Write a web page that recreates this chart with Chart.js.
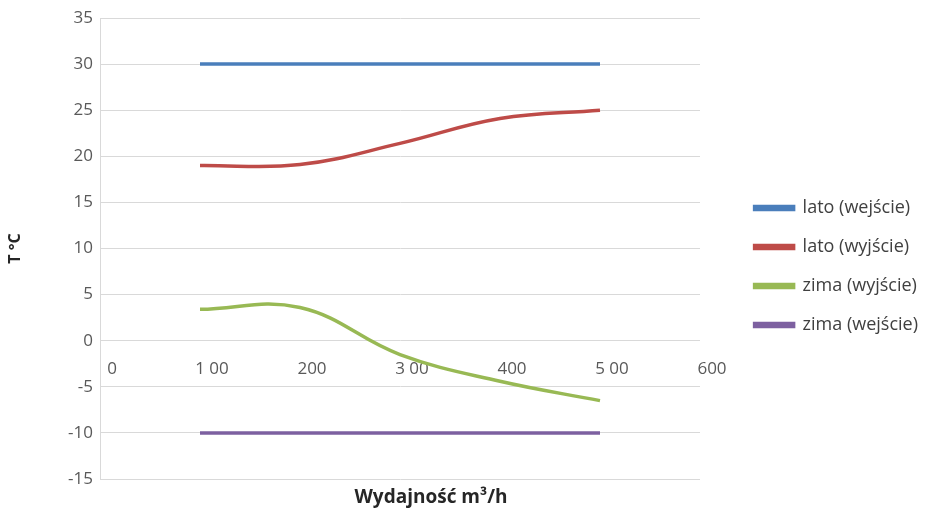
<!DOCTYPE html>
<html><head><meta charset="utf-8">
<script src="https://cdn.jsdelivr.net/npm/chart.js@4/dist/chart.umd.min.js"></script>
<style>html,body{margin:0;padding:0;background:#fff}#wrap{width:928px;height:515px}</style>
</head><body><div id="wrap"><canvas id="c" width="928" height="515"></canvas></div>
<script>
const xValues = [100, 200, 300, 400, 500];
const latoWejscie = [30, 30, 30, 30, 30];
const latoWyjscie = [19.0, 19.1, 21.4, 24.1, 25.0];
const zimaWyjscie = [3.4, 3.6, -1.5, -4.4, -6.5];
const zimaWejscie = [-10, -10, -10, -10, -10];
const seriesNames = ['lato (wejście)', 'lato (wyjście)', 'zima (wyjście)', 'zima (wejście)'];
const xTickValues = [0, 100, 200, 300, 400, 500, 600];
const xTickLabels = ['0', '1 00', '200', '3 00', '400', '5 00', '600'];
const yTitle = 'T °C';
const xTitle = 'Wydajność m³/h';

const colors = ['#4a7ebb', '#be4b48', '#98b954', '#7d60a0'];
const seriesValues = [latoWejscie, latoWyjscie, zimaWyjscie, zimaWejscie];

const datasets = seriesNames.map((name, i) => ({
  label: name,
  data: xValues.map((x, j) => ({x: x, y: seriesValues[i][j]})),
  borderColor: colors[i],
  backgroundColor: colors[i],
  borderWidth: 3.5,
  pointRadius: 0,
  tension: 0.4,
  fill: false
}));

const PLOT_RIGHT = 700;

const xTitlePlugin = {
  id: 'xTitle',
  afterDraw(chart) {
    const ctx = chart.ctx;
    ctx.save();
    ctx.font = 'bold 19px "Open Sans"';
    ctx.fillStyle = '#262626';
    ctx.textAlign = 'center';
    ctx.textBaseline = 'middle';
    ctx.fillText(xTitle, chart.chartArea.left + 331, 498);
    ctx.restore();
  }
};

const chart = new Chart(document.getElementById('c'), {
  type: 'line',
  data: {datasets},
  options: {
    responsive: false,
    animation: false,
    layout: {padding: {top: 18, bottom: 36, left: 0, right: 0}},
    plugins: {
      tooltip: {enabled: false},
      legend: {
        position: 'right',
        maxWidth: 228,
        title: {display: true, text: ' ', font: {size: 10, lineHeight: 1.2}, padding: 12},
        labels: {
          boxWidth: 39,
          boxHeight: 3,
          padding: 21,
          color: '#404040',
          font: {family: '"Open Sans"', size: 18}
        }
      }
    },
    scales: {
      x: {
        type: 'linear',
        min: 0, max: 600,
        position: {y: 0},
        afterBuildTicks: s => { s.ticks = xTickValues.map(v => ({value: v})); },
        grid: {display: false},
        border: {display: false},
        ticks: {
          autoSkip: false, maxRotation: 0,
          padding: 10, labelOffset: 12,
          color: '#595959',
          font: {family: '"Open Sans"', size: 17},
          callback: v => xTickLabels[xTickValues.indexOf(v)]
        }
      },
      y: {
        min: -15, max: 35,
        position: 'left',
        ticks: {stepSize: 5, padding: 7, color: '#595959', font: {family: '"Open Sans"', size: 17}},
        grid: {color: '#d9d9d9', lineWidth: 1, drawTicks: false},
        border: {display: true, color: '#d9d9d9'},
        title: {display: true, text: yTitle, color: '#262626', font: {family: '"Open Sans"', size: 16, weight: 'bold'}, padding: {top: 6, bottom: 0}},
        afterFit: s => { s.width = 100; s.paddingTop = 0; s.paddingBottom = 0; }
      },
      yGap: {
        position: 'right',
        display: true,
        min: 0, max: 1,
        ticks: {display: false},
        grid: {display: false},
        border: {display: false},
        afterFit: s => {
          const lw = s.chart.legend ? s.chart.legend.width : 0;
          s.width = Math.max(0, 928 - PLOT_RIGHT - lw);
          s.paddingTop = 0; s.paddingBottom = 0;
        }
      }
    }
  },
  plugins: [xTitlePlugin]
});
chart.update();
</script>
</body></html>
